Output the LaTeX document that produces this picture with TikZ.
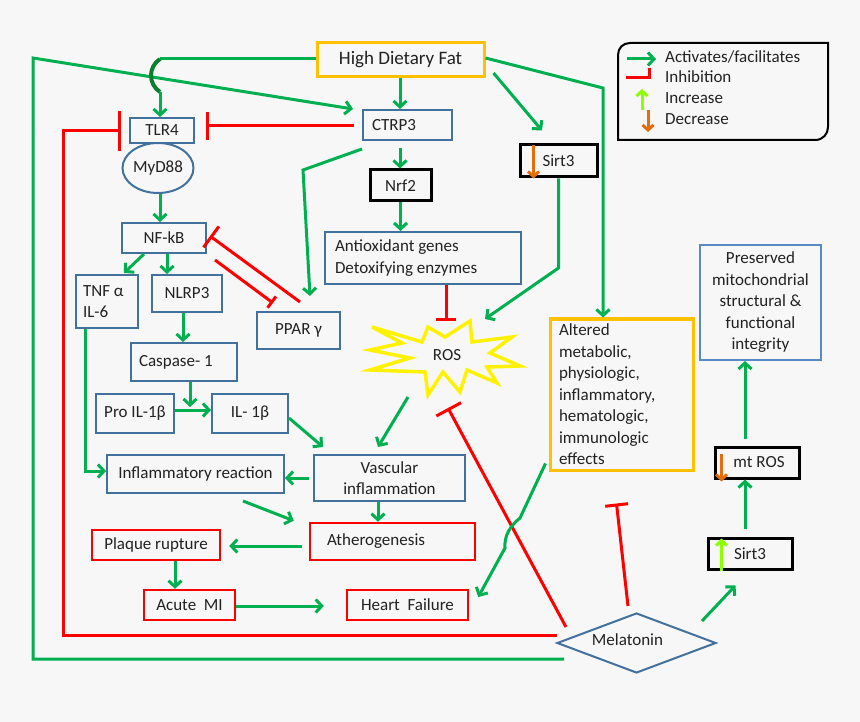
\documentclass[tikz,border=0pt]{standalone}
\usepackage{fontspec}
\setmainfont{Carlito}
\usetikzlibrary{arrows.meta,shapes.geometric,calc}
\definecolor{bg}{HTML}{F7F7F7}
\definecolor{gr}{HTML}{00B050}
\definecolor{dgr}{HTML}{0A7F2E}
\definecolor{rd}{HTML}{FF0000}
\definecolor{bl}{HTML}{41719C}
\definecolor{lb}{HTML}{5A8AC6}
\definecolor{gold}{HTML}{FFC000}
\definecolor{org}{HTML}{E46C0A}
\definecolor{lime}{HTML}{8CFF00}
\definecolor{txt}{HTML}{222222}
\newcommand\myfs{\fontsize{17}{21.5}\selectfont}
\begin{document}
\begin{tikzpicture}[x=1pt,y=-1pt,
  every node/.append style={text=txt,font=\myfs},
  box/.style={draw,line width=2pt,inner sep=0pt},
  bbox/.style={box,draw=bl},
  rbox/.style={box,draw=rd,line width=2.5pt},
  kbox/.style={box,draw=black,line width=3pt},
  obox/.style={box,draw=gold,line width=3pt},
  act/.style={draw=gr,line width=3pt,-{Straight Barb[length=6pt,width=13pt]}},
  inh/.style={draw=rd,line width=3pt,-{Bar[width=#1]}},
  inh/.default=28pt,
  smallarr/.style={line width=3pt,-{Straight Barb[length=5pt,width=11pt]}}]
\useasboundingbox (0,0) rectangle (860,722);
\fill[bg] (0,0) rectangle (860,722);

% ---------- nodes ----------
\node[obox,minimum width=167pt,minimum height=34pt,font=\fontsize{19}{22}\selectfont] (hdf) at (400.5,60) {High Dietary Fat};
\node[bbox,minimum width=64pt,minimum height=25pt] (tlr) at (162,130.5) {TLR4};
\node[ellipse,draw=bl,line width=2pt,inner sep=0pt,minimum width=71pt,minimum height=50pt] (myd) at (158,168) {MyD88};
\node[bbox,minimum height=30pt,inner xsep=9pt,text width=71pt,align=flush left] (ctrp) at (407.5,125) {CTRP3};
\node[kbox,minimum width=61pt,minimum height=31pt] (nrf) at (400.5,185.5) {Nrf2};
\node[bbox,minimum width=84pt,minimum height=30pt] (nfkb) at (164,238) {NF-kB};
\node[bbox,minimum height=53pt,inner xsep=7pt,text width=48pt,align=flush left] (tnf) at (107,301.5) {TNF α\\IL-6};
\node[bbox,minimum width=70pt,minimum height=37pt] (nlrp) at (187,293.5) {NLRP3};
\node[bbox,minimum width=83pt,minimum height=37pt] (ppar) at (298.5,330.5) {PPAR γ};
\node[bbox,minimum height=38pt,inner xsep=8pt,text width=90pt,align=flush left] (casp) at (184,362) {Caspase- 1};
\node[bbox,minimum width=78pt,minimum height=39pt] (pro) at (135,413.5) {Pro IL-1β};
\node[bbox,minimum width=76pt,minimum height=39pt] (il) at (250,413.5) {IL- 1β};
\node[bbox,minimum height=52pt,inner xsep=10pt,text width=176pt,align=flush left] (anti) at (423,258) {Antioxidant genes\\Detoxifying enzymes};
\node[bbox,minimum width=151pt,minimum height=46pt,align=flush center] (vasc) at (389.5,478) {Vascular\\inflammation};
\node[bbox,minimum width=177pt,minimum height=38pt] (infl) at (195.5,474) {Inflammatory reaction};
\node[rbox,minimum height=37pt,inner xsep=17pt,text width=131pt,align=flush left] (ath) at (392.5,541.5) {Atherogenesis};
\node[rbox,minimum width=128pt,minimum height=30pt] (plq) at (156,545) {Plaque rupture};
\node[rbox,minimum width=91pt,minimum height=30pt] (ami) at (189.5,605) {Acute\ \ MI};
\node[rbox,minimum width=121pt,minimum height=30pt] (hf) at (407.5,605) {Heart\ \ Failure};
\node[kbox,minimum width=77pt,minimum height=32pt] (sirta) at (558.5,161) {Sirt3};
\node[obox,minimum height=151pt,inner xsep=9pt,text width=125pt,align=flush left] (alt) at (621.5,394.5) {Altered\\metabolic,\\physiologic,\\inflammatory,\\hematologic,\\immunologic\\effects};
\node[box,draw=lb,minimum height=115pt,text width=121pt,align=flush center] (pres) at (760.5,302.5) {Preserved\\mitochondrial\\structural \&\\functional\\integrity};
\node[kbox,minimum width=84pt,minimum height=31pt] (mtros) at (757,462.5) {\hspace{4pt}mt ROS};
\node[kbox,minimum width=84pt,minimum height=31pt] (sirtb) at (750,553.5) {Sirt3};
\node[diamond,draw=bl,line width=2pt,inner sep=0pt,aspect=2.65,minimum width=159pt,minimum height=60pt] (mel) at (636.5,643) {};
\node (meltxt) at (627.5,640) {Melatonin};

% ROS starburst
\draw[yellow,line width=3.5pt,line join=miter]
  (372,327) -- (422,342) -- (428,327) -- (445,337) -- (470,321) -- (472,342) -- (512,337) -- (490,353)
  -- (520,366) -- (487,367) -- (497,383) -- (467,370) -- (460,392) -- (443,372) -- (428,395) -- (425,372)
  -- (370,370) -- (410,358) -- (370,350) -- (402,343) -- cycle;
\node (ros) at (447,355) {ROS};

% ---------- connectors ----------
% Melatonin -> CTRP3 (long loop)
\draw[act] ($(mel.west)+(8,16)$) -- (33,659) -- (33,58) -- ($(ctrp.north west)+(-9,0)$);
% HDF -> TLR4 with hop
\draw[draw=gr,line width=3pt] ($(hdf.west)+(0,-1)$) -- (160,59);
\draw[draw=dgr,line width=4pt] (160,59) .. controls (148,67) and (148,84) .. (160,92);
\draw[act] (160,92) -- ($(tlr.north)+(-2,0)$);
% HDF -> CTRP3
\draw[act] ($(hdf.south)+(-0.5,0)$) -- ($(ctrp.north)+(-7.5,0)$);
% CTRP3 -> Nrf2
\draw[act] ($(ctrp.south)+(-7.5,7)$) -- ($(nrf.north)+(-0.5,0)$);
% Nrf2 -> Antioxidant
\draw[act] (nrf.south) -- ($(anti.north)+(-22.5,0)$);
% Antioxidant -| ROS
\draw[inh=20pt] ($(anti.south)+(23,0)$) -- ($(ros)+(-1,-34)$);
% CTRP3 -> PPAR
\draw[act] ($(ctrp.south west)+(0,8)$) -- (303,170) -- ($(ppar.north)+(11.5,-15)$);
% HDF -> Sirt3
\draw[act] ($(hdf.east)+(8,13)$) -- ($(sirta.north)+(-16.5,-13)$);
% HDF -> Altered
\draw[act] ($(hdf.east)+(0,-2)$) -- (603,88) -- ($(alt.north)+(-18.5,0)$);
% Sirt3 -> ROS
\draw[act] (sirta.south) -- (558.5,268) -- ($(ros)+(38,-36)$);
% CTRP3 -| TLR4
\draw[inh=28pt] ($(ctrp.west)+(-8,1)$) -- ($(tlr.east)+(11,-4.5)$);
% Melatonin -| TLR4
\draw[inh=40pt] ($(mel.west)+(1,-8)$) -- (63,635) -- (63,131) -- ($(tlr.west)+(-8,0.5)$);
% MyD88 -> NF-kB
\draw[act] ($(myd.south)+(2,0)$) -- ($(nfkb.north)+(-4,0)$);
% NF-kB -> TNF, NLRP3
\draw[act] ($(nfkb.south)+(-20,0)$) -- ($(tnf.north)+(17,-1)$);
\draw[act] ($(nfkb.south)+(3,0)$) -- ($(nlrp.north)+(-20,0)$);
% NF-kB <-> PPAR inhibition
\draw[inh=26pt] ($(ppar.north)+(1.5,-9)$) -- ($(nfkb.east)+(3,-2)$);
\draw[inh=14pt] ($(nfkb.east)+(8,22)$) -- ($(ppar.north)+(-25.5,-8)$);
% NLRP3 -> Caspase
\draw[act] ($(nlrp.south)+(-4,0)$) -- ($(casp.north)+(-1,0)$);
% Caspase -> (join)
\draw[act] ($(casp.south)+(6,0)$) -- ($(casp.south)+(6,25)$);
% Pro IL-1b -> IL-1b
\draw[act] ($(pro.east)+(0,-3.5)$) -- ($(il.west)+(0,-3.5)$);
% IL-1b -> Vascular
\draw[act] ($(il.east)+(0,4.5)$) -- ($(vasc.north west)+(10,-7)$);
% ROS -> Vascular
\draw[act] ($(ros)+(-39,42)$) -- ($(vasc.north)+(-11.5,-7)$);
% TNF -> Inflammatory reaction
\draw[act] ($(tnf.south)+(-22,0)$) -- (85,471) -- ($(infl.west)+(0,-3)$);
% Vascular -> Inflammatory reaction
\draw[act] ($(vasc.west)+(-4,0)$) -- ($(infl.east)+(0,4)$);
% Inflammatory -> Atherogenesis
\draw[act] ($(infl.south)+(47.5,7)$) -- ($(ath.north west)+(-15,-1)$);
% Vascular -> Atherogenesis
\draw[act] ($(vasc.south)+(-11.5,0)$) -- ($(ath.north)+(-14.5,0)$);
% Atherogenesis -> Plaque
\draw[act] ($(ath.west)+(-7,4.5)$) -- ($(plq.east)+(8,1)$);
% Plaque -> Acute MI
\draw[act] ($(plq.south)+(19,0)$) -- ($(ami.north)+(-14.5,0)$);
% Acute MI -> Heart failure
\draw[act] ($(ami.east)+(0,1)$) -- ($(hf.west)+(-22,1)$);
% Melatonin -| ROS
\draw[inh=28pt] ($(mel.west)+(10,-16)$) -- ($(ros)+(1,53)$);
% Altered -> Heart failure (with hop)
\draw[act] ($(alt.south west)+(-3,-8)$) -- (520,518) .. controls (510,526) and (504,536) .. (505,548) -- ($(hf.east)+(9,-8)$);
% Melatonin -| Altered
\draw[inh=23pt] ($(mel.north)+(-8.5,-6)$) -- ($(alt.south)+(-5,32)$);
% Melatonin -> Sirt3
\draw[act] ($(mel.east)+(-15,-22)$) -- ($(sirtb.south west)+(29,15)$);
% Sirt3 -> mt ROS -> Preserved
\draw[act] ($(sirtb.north)+(-5,-8)$) -- ($(mtros.south)+(-12,0)$);
\draw[act] ($(mtros.north)+(-12,-7)$) -- ($(pres.south)+(-15.5,0)$);

% small increase / decrease arrows
\draw[smallarr,draw=org] ($(sirta.north west)+(15,2)$) -- ($(sirta.south west)+(15,0)$);
\draw[smallarr,draw=org] ($(mtros.north west)+(8,8)$) -- ($(mtros.south west)+(8,2)$);
\draw[smallarr,draw=lime] ($(sirtb.south west)+(15,0)$) -- ($(sirtb.north west)+(15,2)$);

% ---------- legend ----------
\draw[black,line width=2pt] (618,140) -- (618,55) .. controls (618,48) and (623,43) .. (630,43) -- (828,43) -- (828,127) .. controls (828,134) and (823,140) .. (815,140) -- cycle;
\node[anchor=west,inner sep=0pt] (lg1) at (665,57) {Activates/facilitates};
\node[anchor=west,inner sep=0pt] (lg2) at (665,77) {Inhibition};
\node[anchor=west,inner sep=0pt] (lg3) at (665,98) {Increase};
\node[anchor=west,inner sep=0pt] (lg4) at (665,119) {Decrease};
\draw[act] (627,59) -- (656,59);
\draw[draw=rd,line width=3pt] (626,78) -- (649,78) -- (649,68);
\draw[smallarr,draw=lime] (642,110) -- (642,89);
\draw[smallarr,draw=org] (648,110) -- (648,132);
\end{tikzpicture}
\end{document}
